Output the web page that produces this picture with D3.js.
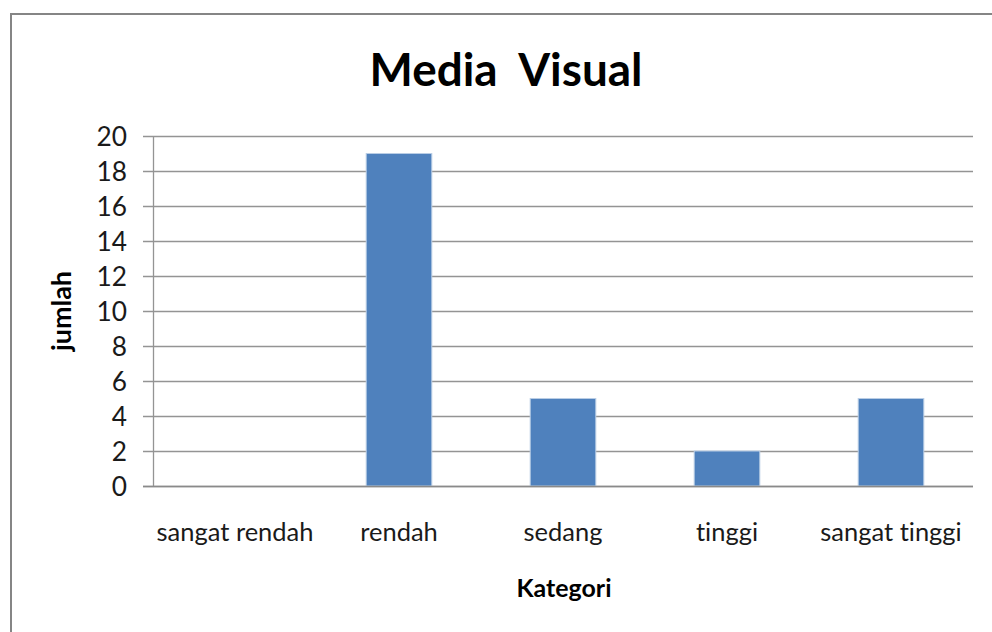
<!DOCTYPE html>
<html>
<head>
<meta charset="utf-8">
<script src="https://cdn.jsdelivr.net/npm/d3@7"></script>
<style>
  html, body { margin: 0; padding: 0; background: #fff; }
  svg { display: block; }
  text { font-family: "Lato", "Open Sans", sans-serif; font-variant-ligatures: none; font-feature-settings: "liga" 0; }
</style>
</head>
<body>
<script>
// ---- data ----
const title = "Media  Visual";
const xTitle = "Kategori";
const yTitle = "jumlah";
const categories = ["sangat rendah", "rendah", "sedang", "tinggi", "sangat tinggi"];
const values = [0, 19, 5, 2, 5];
const yTicks = [0, 2, 4, 6, 8, 10, 12, 14, 16, 18, 20];

// ---- layout ----
const W = 992, H = 632;
const plot = { left: 153, right: 973, top: 136, bottom: 486 };
const FONT = "Lato, 'Open Sans', sans-serif";

const svg = d3.select("body").append("svg").attr("width", W).attr("height", H);

// outer frame (extends beyond the visible window)
svg.append("rect")
  .attr("x", 11).attr("y", 14)
  .attr("width", W + 20).attr("height", H + 20)
  .attr("fill", "#fff").attr("stroke", "#858585").attr("stroke-width", 2);

const x = d3.scaleBand().domain(categories).range([plot.left, plot.right])
  .paddingInner(0.6).paddingOuter(0.3);
const y = d3.scaleLinear().domain([0, 20]).range([plot.bottom, plot.top]);

function fit(sel, target) {
  const node = sel.node();
  const fs = parseFloat(sel.attr("font-size"));
  const w = node.getComputedTextLength();
  if (w > 0) sel.attr("font-size", fs * target / w);
  return sel;
}

// gridlines
svg.append("g").selectAll("line").data(yTicks).join("line")
  .attr("x1", plot.left - 10).attr("x2", plot.right)
  .attr("y1", d => Math.round(y(d)) + 0.5).attr("y2", d => Math.round(y(d)) + 0.5)
  .attr("stroke", "#949494").attr("stroke-width", 1.3);

// y axis line
svg.append("line")
  .attr("x1", plot.left + 0.5).attr("x2", plot.left + 0.5)
  .attr("y1", plot.top).attr("y2", plot.bottom + 1)
  .attr("stroke", "#949494").attr("stroke-width", 1.3);

// y tick labels via axis
const yAxis = d3.axisLeft(y).tickValues(yTicks).tickSize(0).tickPadding(0).tickFormat(d3.format("d"));
const yg = svg.append("g").attr("transform", `translate(${plot.left - 26},0)`).call(yAxis);
yg.select(".domain").remove();
yg.selectAll("text").attr("font-size", 21).attr("fill", "#1a1a1a")
  .attr("font-family", FONT).attr("dy", "0.36em");

// bars
svg.append("g").selectAll("rect").data(values).join("rect")
  .attr("x", (d, i) => x(categories[i]))
  .attr("width", x.bandwidth())
  .attr("y", d => y(d))
  .attr("height", d => y(0) - y(d))
  .attr("fill", "#4f81bd")
  .attr("stroke", "#b9cde5").attr("stroke-width", d => d > 0 ? 1 : 0);

// baseline
svg.append("line")
  .attr("x1", plot.left - 10).attr("x2", plot.right)
  .attr("y1", plot.bottom + 0.5).attr("y2", plot.bottom + 0.5)
  .attr("stroke", "#8a8a8a").attr("stroke-width", 1.5);

// x tick labels via axis
const xAxis = d3.axisBottom(x).tickSize(0).tickPadding(0);
const xg = svg.append("g").attr("transform", `translate(0,${plot.bottom})`).call(xAxis);
xg.select(".domain").remove();
xg.selectAll("text").attr("font-size", 21).attr("fill", "#1a1a1a")
  .attr("font-family", FONT)
  .attr("y", 55).attr("dy", 0);
{
  const first = xg.selectAll("text").filter(d => d === "sangat rendah");
  const w = first.node().getComputedTextLength();
  const fs = 21 * 157 / w;
  xg.selectAll("text").attr("font-size", fs);
  yg.selectAll("text").attr("font-size", fs * 1.03);
}

// title
const t = svg.append("text")
  .attr("x", 506).attr("y", 86)
  .attr("text-anchor", "middle")
  .attr("font-size", 44).attr("font-weight", "bold").attr("fill", "#000")
  .attr("font-family", FONT)
  .style("white-space", "pre")
  .text(title);
fit(t, 273);

// x title
const xt = svg.append("text")
  .attr("x", 564).attr("y", 597)
  .attr("text-anchor", "middle")
  .attr("font-size", 20).attr("font-weight", "bold").attr("fill", "#000")
  .attr("font-family", FONT)
  .text(xTitle);
fit(xt, 95);

// y title
const yt = svg.append("text")
  .attr("transform", "translate(71,311) rotate(-90)")
  .attr("text-anchor", "middle")
  .attr("font-size", 20).attr("font-weight", "bold").attr("fill", "#000")
  .attr("font-family", FONT)
  .text(yTitle);
fit(yt, 80);
</script>
</body>
</html>
